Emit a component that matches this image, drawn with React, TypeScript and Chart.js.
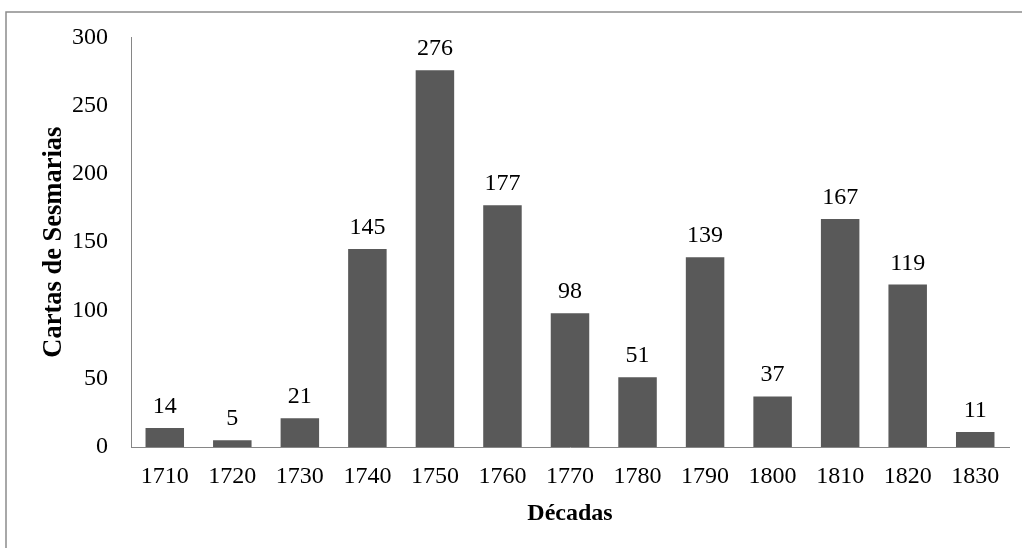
import React, { useEffect, useRef } from "react";
import { Chart, registerables } from "chart.js";

Chart.register(...registerables);

const decades = ["1710", "1720", "1730", "1740", "1750", "1760", "1770", "1780", "1790", "1800", "1810", "1820", "1830"];
const cartas = [14, 5, 21, 145, 276, 177, 98, 51, 139, 37, 167, 119, 11];
const yTicks = [0, 50, 100, 150, 200, 250, 300];

const FONT = "'Liberation Serif', 'Times New Roman', serif";

const framePlugin = {
  id: "frame",
  beforeDraw(chart: any) {
    const ctx = chart.ctx;
    ctx.save();
    ctx.fillStyle = "#ffffff";
    ctx.fillRect(0, 0, chart.width, chart.height);
    ctx.strokeStyle = "#8c8c8c";
    ctx.lineWidth = 1.5;
    ctx.strokeRect(6, 12, chart.width + 100, chart.height + 100);
    ctx.restore();
  },
};

const valueLabels = {
  id: "valueLabels",
  afterDatasetsDraw(chart: any) {
    const ctx = chart.ctx;
    const meta = chart.getDatasetMeta(0);
    const data = chart.data.datasets[0].data;
    ctx.save();
    ctx.font = `24px ${FONT}`;
    ctx.fillStyle = "#000000";
    ctx.textAlign = "center";
    ctx.textBaseline = "alphabetic";
    meta.data.forEach((el: any, i: number) => {
      ctx.fillText(String(data[i]), el.x, el.y - 15);
    });
    ctx.restore();
  },
};

export default function App() {
  const ref = useRef<HTMLCanvasElement | null>(null);

  useEffect(() => {
    document.body.style.margin = "0";
    if (!ref.current) return;
    const chart = new Chart(ref.current, {
      type: "bar",
      data: {
        labels: decades,
        datasets: [
          {
            data: cartas,
            backgroundColor: "#595959",
            borderWidth: 0,
            barPercentage: 0.57,
            categoryPercentage: 1,
          },
        ],
      },
      options: {
        animation: false,
        responsive: false,
        devicePixelRatio: 1,
        layout: { padding: { left: 0, top: 36, right: 13, bottom: 0 } },
        plugins: {
          legend: { display: false },
          tooltip: { enabled: false },
          title: { display: false },
        },
        scales: {
          x: {
            grid: { display: false, drawTicks: false },
            border: { display: true, color: "#868686", width: 1 },
            ticks: {
              color: "#000000",
              font: { family: FONT, size: 24 },
              padding: 15,
              maxRotation: 0,
              autoSkip: false,
            },
            title: {
              display: true,
              text: "Décadas",
              color: "#000000",
              font: { family: FONT, size: 24, weight: "bold" },
              padding: { top: 0, bottom: 20 },
            },
            afterFit(scale: any) {
              scale.height = 101;
            },
          },
          y: {
            min: 0,
            max: 300,
            grid: { display: false, drawTicks: false },
            border: { display: true, color: "#868686", width: 1 },
            afterBuildTicks(scale: any) {
              scale.ticks = yTicks.map((v) => ({ value: v }));
            },
            ticks: {
              color: "#000000",
              font: { family: FONT, size: 24 },
              padding: 23,
            },
            title: {
              display: true,
              text: "Cartas de Sesmarias",
              color: "#000000",
              font: { family: FONT, size: 26.5, weight: "bold" },
              padding: { top: 38, bottom: 0 },
            },
            afterFit(scale: any) {
              scale.width = 131;
            },
          },
        },
      },
      plugins: [framePlugin, valueLabels],
    });
    return () => chart.destroy();
  }, []);

  return (
    <div style={{ width: 1022, height: 548 }}>
      <canvas ref={ref} width={1022} height={548} style={{ display: "block", width: 1022, height: 548 }} />
    </div>
  );
}
